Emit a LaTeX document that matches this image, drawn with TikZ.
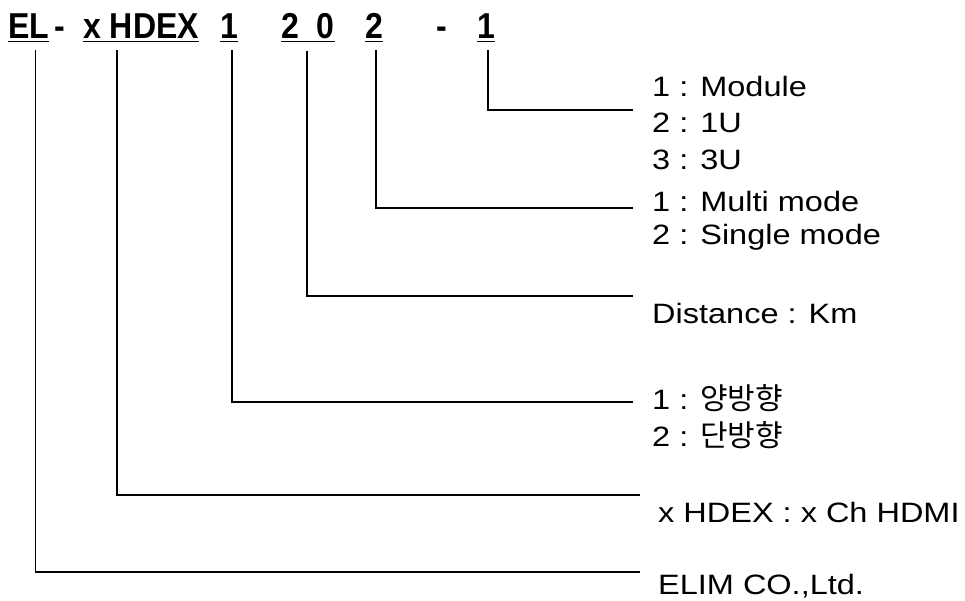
\documentclass[tikz,border=0pt]{standalone}
\usepackage{fontspec}
\setmainfont{Liberation Sans}[FakeStretch=1.16]
\newfontfamily\codefont{Liberation Sans}[FakeStretch=0.89]
\newfontfamily\krfont{Noto Sans CJK KR}[Scale=1.07]

\tikzset{
  code/.style={anchor=base west, inner sep=0pt, font=\codefont\bfseries\fontsize{36}{42}\selectfont},
  desc/.style={anchor=base west, inner sep=0pt, font=\fontsize{28}{34}\selectfont},
  leader/.style={line width=1.3pt},
  uline/.style={line width=1.8pt}
}

\begin{document}
\begin{tikzpicture}[x=1pt,y=-1pt]
        \useasboundingbox (0,0) rectangle (965,601);
        % model code
        \node[code] (EL) at (8,39) {EL};
        \node[code] (dashA) at (54,39) {-};
        \node[code] (hdex) at (83,39) {x HDEX};
        \node[code] (dir) at (220,39) {1};
        \node[code] (dist) at (281,39) {2\hspace{18pt}0};
        \node[code] (mode) at (365,39) {2};
        \node[code] (dashB) at (436,39) {-};
        \node[code] (form) at (477,39) {1};
        % underlines
        \draw[uline] ([yshift=-2.5pt]EL.base west) -- ([yshift=-2.5pt]EL.base east);
        \draw[uline] ([yshift=-2.5pt]hdex.base west) -- ([yshift=-2.5pt]hdex.base east);
        \draw[uline] ([yshift=-2.5pt]dir.base west) -- ([yshift=-2.5pt]dir.base east);
        \draw[uline] ([yshift=-2.5pt]dist.base west) -- ([yshift=-2.5pt]dist.base east);
        \draw[uline] ([yshift=-2.5pt]mode.base west) -- ([yshift=-2.5pt]mode.base east);
        \draw[uline] ([yshift=-2.5pt]form.base west) -- ([yshift=-2.5pt]form.base east);
        % text
        \node[desc] (formA) at (652,97) {1 : Module};
        \node[desc] (formB) at (652,133) {2 : 1U};
        \node[desc] (formC) at (652,170) {3 : 3U};
        \node[desc] (modeA) at (652,212) {1 : Multi mode};
        \node[desc] (modeB) at (652,245) {2 : Single mode};
        \node[desc] (distA) at (652,323) {Distance : Km};
        \node[desc] (dirA) at (652,409) {1 : {\krfont 양방향}};
        \node[desc] (dirB) at (652,446) {2 : {\krfont 단방향}};
        \node[desc] (hdexA) at (658,522) {x HDEX : x Ch HDMI};
        \node[desc] (elA) at (658,594) {ELIM CO.,Ltd.};
        % leaders
        \coordinate (formEnd) at (633,110);
        \coordinate (modeEnd) at (633,208);
        \coordinate (distEnd) at (633,296);
        \coordinate (dirEnd) at (633,402);
        \coordinate (hdexEnd) at (640,495);
        \coordinate (elEnd) at (640,572);
        \draw[leader] ([shift={(2,11)}]form.south) |- (formEnd);
        \draw[leader] ([shift={(2,11)}]mode.south) |- (modeEnd);
        \draw[leader] ([shift={(-1,11)}]dist.south) |- (distEnd);
        \draw[leader] ([shift={(3,11)}]dir.south) |- (dirEnd);
        \draw[leader] ([shift={(-24,11)}]hdex.south) |- (hdexEnd);
        \draw[leader] ([shift={(6.5,11)}]EL.south) |- (elEnd);
\end{tikzpicture}
\end{document}
